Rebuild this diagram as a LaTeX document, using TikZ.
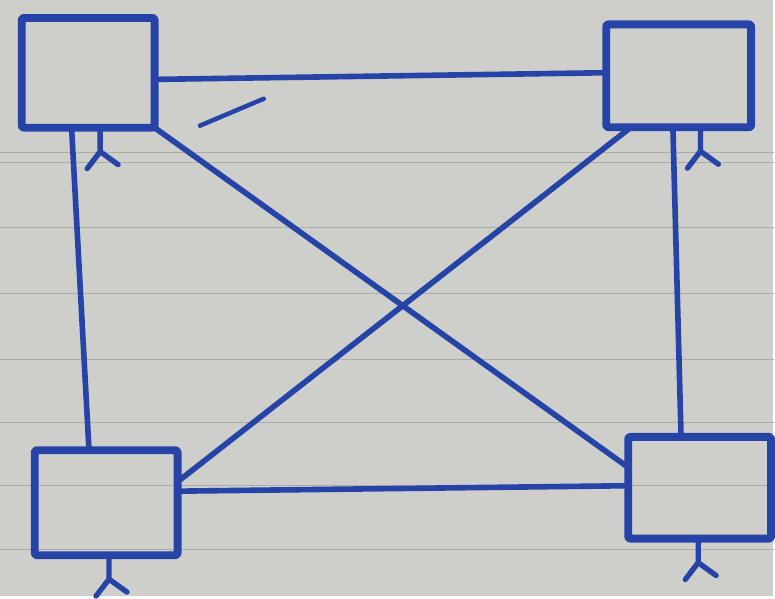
\documentclass[tikz,border=0pt]{standalone}
\usepackage{xcolor}
\definecolor{paper}{RGB}{206,206,203}
\definecolor{ruling}{RGB}{172,172,170}
\definecolor{penblue}{RGB}{38,68,168}
\usepackage{tikz}
\usetikzlibrary{calc}

\begin{document}
\begin{tikzpicture}[x=0.025cm, y=-0.025cm, line cap=round, line join=round,
  pcbox/.style={draw=penblue, line width=5.6pt, rectangle, rounded corners=1.5pt, inner sep=0pt, outer sep=0pt},
  wire/.style={draw=penblue, line width=4pt},
  stand/.style={draw=penblue, line width=3.8pt}]
  % paper and ruled lines
  \fill[paper] (0,0) rectangle (775,598);
  \foreach \yy in {153,163,228,294,360,423,487,551} \draw[ruling, line width=0.6pt] (0,\yy) -- (775,\yy);
  % computers
  \node[pcbox, minimum width=3.33cm, minimum height=2.75cm] (tl) at (88,73) {};
  \node[pcbox, minimum width=3.63cm, minimum height=2.58cm] (tr) at (680,76) {};
  \node[pcbox, minimum width=3.58cm, minimum height=2.63cm] (bl) at (106,504) {};
  \node[pcbox, minimum width=3.58cm, minimum height=2.55cm] (br) at (701,489) {};
  % stands
  \foreach \pc/\f in {tl/0.59, tr/0.65, bl/0.52, br/0.49}
    \draw[stand] ($(\pc.south west)!\f!(\pc.south east)$) -- ++(0,24) -- ++(-13,17) ++(13,-17) -- ++(18,13);
  % mesh links
  \draw[wire] ($(tl.north east)!0.56!(tl.south east)$) -- ($(tr.north west)!0.47!(tr.south west)$);
  \draw[wire] ($(bl.north east)!0.39!(bl.south east)$) -- ($(br.north west)!0.48!(br.south west)$);
  \draw[wire] ($(tl.south west)!0.375!(tl.south east)$) -- ($(bl.north west)!0.38!(bl.north east)$);
  \draw[wire] ($(tr.south west)!0.46!(tr.south east)$) -- ($(br.north west)!0.37!(br.north east)$);
  \draw[wire] (tl.south east) -- ($(br.north west)!0.3!(br.south west)$);
  \draw[wire] ($(tr.south west)!0.17!(tr.south east)$) -- ($(bl.north east)!0.3!(bl.south east)$);
  % stray pen mark
  \draw[penblue, line width=3.2pt] (200,126) -- (264,99);
\end{tikzpicture}
\end{document}
